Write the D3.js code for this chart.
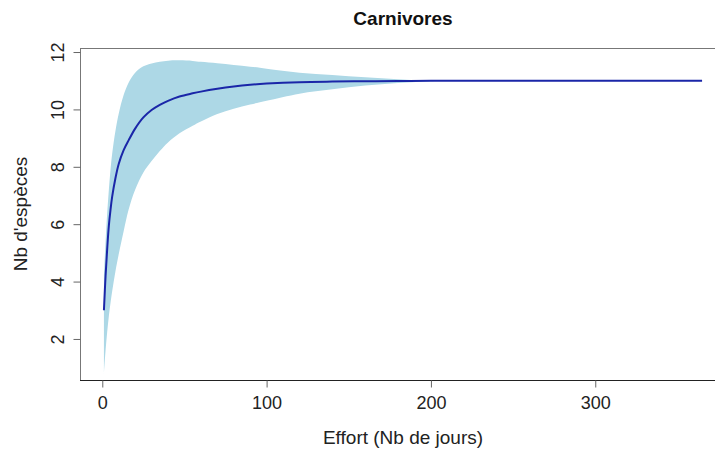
<!DOCTYPE html>
<html>
<head>
<meta charset="utf-8">
<script src="https://cdn.jsdelivr.net/npm/d3@7"></script>
<style>
  html, body { margin: 0; padding: 0; background: #fff; }
  svg { display: block; font-family: "Liberation Sans", Arial, sans-serif; }
</style>
</head>
<body>
<svg id="chart" width="715" height="450"></svg>
<script>
// Species accumulation curve: sampling effort (days) vs. number of species
const days     = [1, 2, 3, 4, 5, 6, 8, 10, 13, 16, 20, 25, 30, 35, 40, 47, 55, 60, 70, 80, 90, 100, 120, 140, 160, 180, 200, 205, 250, 300, 365];
const richness = [3.0, 4.2, 5.15, 5.95, 6.5, 6.95, 7.6, 8.1, 8.58, 8.92, 9.33, 9.72, 9.98, 10.16, 10.3, 10.45, 10.56, 10.62, 10.72, 10.8, 10.86, 10.9, 10.95, 10.97, 10.98, 10.99, 10.995, 11, 11, 11, 11];
const upperCI  = [4.2, 5.4, 6.4, 7.2, 7.9, 8.45, 9.25, 9.85, 10.5, 10.93, 11.28, 11.5, 11.6, 11.66, 11.7, 11.71, 11.69, 11.66, 11.61, 11.55, 11.49, 11.42, 11.28, 11.2, 11.12, 11.05, 11.0, 11, 11, 11, 11];
const lowerCI  = [0.8, 1.6, 2.25, 2.8, 3.25, 3.65, 4.35, 4.95, 5.75, 6.5, 7.2, 7.8, 8.2, 8.55, 8.85, 9.17, 9.43, 9.58, 9.84, 10.02, 10.17, 10.3, 10.55, 10.7, 10.83, 10.92, 10.98, 11, 11, 11, 11];

const xTicks = [0, 100, 200, 300];
const yTicks = [2, 4, 6, 8, 10, 12];

const chartTitle = "Carnivores";
const xTitle = "Effort (Nb de jours)";
const yTitle = "Nb d'espèces";

const rows = days.map((d, i) => ({ day: d, mean: richness[i], lo: lowerCI[i], hi: upperCI[i] }));

const svg = d3.select("#chart");
const plot = { left: 80, right: 726, top: 48, bottom: 380 };

const x = d3.scaleLinear().domain([-13.56, 379.56]).range([plot.left, plot.right]);
const y = d3.scaleLinear().domain([0.57, 12.14]).range([plot.bottom, plot.top]);

const smooth = d3.curveCatmullRom.alpha(0.5);

svg.append("defs").append("clipPath").attr("id", "plotClip")
  .append("rect")
  .attr("x", plot.left).attr("y", plot.top)
  .attr("width", plot.right - plot.left).attr("height", plot.bottom - plot.top);

const g = svg.append("g").attr("clip-path", "url(#plotClip)");

// confidence band
g.append("path")
  .datum(rows)
  .attr("fill", "#add8e6")
  .attr("d", d3.area()
    .x(d => x(d.day))
    .y0(d => y(d.lo))
    .y1(d => y(d.hi))
    .curve(smooth));

// mean accumulation curve
g.append("path")
  .datum(rows)
  .attr("fill", "none")
  .attr("stroke", "#1a26a8")
  .attr("stroke-width", 2)
  .attr("d", d3.line()
    .x(d => x(d.day))
    .y(d => y(d.mean))
    .curve(smooth));

// plot frame
svg.append("rect")
  .attr("x", plot.left + 0.5).attr("y", plot.top + 0.5)
  .attr("width", plot.right - plot.left).attr("height", plot.bottom - plot.top)
  .attr("fill", "none").attr("stroke", "#777").attr("stroke-width", 1);
svg.append("line")
  .attr("x1", plot.left).attr("x2", plot.right)
  .attr("y1", plot.bottom + 0.5).attr("y2", plot.bottom + 0.5)
  .attr("stroke", "#222");

// x axis
const xAxis = svg.append("g")
  .attr("transform", `translate(0,${plot.bottom + 0.5})`)
  .call(d3.axisBottom(x).tickValues(xTicks).tickSize(7).tickPadding(9).tickFormat(d3.format("d")));
xAxis.select(".domain").remove();
xAxis.selectAll(".tick line").attr("stroke", "#666");
xAxis.selectAll("text").attr("font-size", 18).attr("fill", "#222");

// y axis with labels parallel to the axis
const yAxis = svg.append("g")
  .attr("transform", `translate(${plot.left + 0.5},0)`)
  .call(d3.axisLeft(y).tickValues(yTicks).tickSize(7).tickFormat(d3.format("d")));
yAxis.select(".domain").remove();
yAxis.selectAll(".tick line").attr("stroke", "#666");
yAxis.selectAll(".tick text")
  .attr("x", null)
  .attr("text-anchor", "middle")
  .attr("transform", "translate(-17,0) rotate(-90)")
  .attr("dy", "0")
  .attr("font-size", 18).attr("fill", "#222");

// titles
const midX = (plot.left + plot.right) / 2;
svg.append("text")
  .attr("x", midX).attr("y", 25)
  .attr("text-anchor", "middle")
  .attr("font-size", 19).attr("font-weight", "bold").attr("fill", "#111")
  .text(chartTitle);

svg.append("text")
  .attr("x", midX).attr("y", 444)
  .attr("text-anchor", "middle")
  .attr("font-size", 19).attr("fill", "#222")
  .text(xTitle);

svg.append("text")
  .attr("transform", `translate(27,${(plot.top + plot.bottom) / 2}) rotate(-90)`)
  .attr("text-anchor", "middle")
  .attr("font-size", 19).attr("fill", "#222")
  .text(yTitle);
</script>
</body>
</html>
